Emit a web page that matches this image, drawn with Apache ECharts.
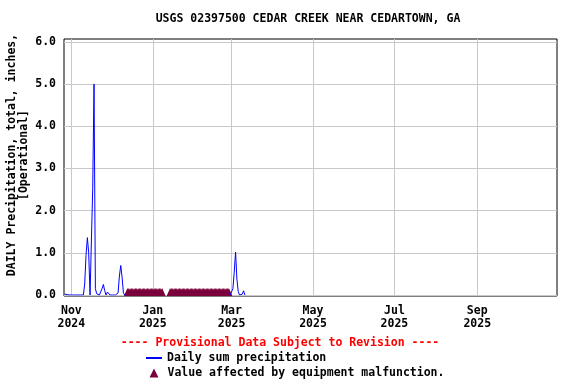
<!DOCTYPE html>
<html><head><meta charset="utf-8">
<script src="https://cdn.jsdelivr.net/npm/echarts@6/dist/echarts.min.js"></script>
<style>html,body{margin:0;padding:0;background:#fff}#c{width:576px;height:384px}</style>
</head><body><div id="c"></div>
<script>
// ---- data ----
const titleText = 'USGS 02397500 CEDAR CREEK NEAR CEDARTOWN, GA';
const yAxisTitle = ['DAILY Precipitation, total, inches,', '[Operational]'];
const provisionalText = '---- Provisional Data Subject to Revision ----';
const seriesNames = ['Daily sum precipitation', 'Value affected by equipment malfunction.'];
const xTickDates = ['2024-11-01', '2025-01-01', '2025-03-01', '2025-05-01', '2025-07-01', '2025-09-01'];
const yTicks = [0, 1, 2, 3, 4, 5, 6];
const xRange = ['2024-10-26T12', '2025-10-30T18'];
// daily values from Oct 27 2024 to Dec 12 2024
const precipStart1 = '2024-10-27';
const precipValues1 = [
  0.02, 0.05, 0.01, 0.04, 0,                       // Oct 27-31
  0, 0, 0, 0, 0, 0, 0, 0, 0, 0,                    // Nov 1-10
  0.26, 0.94, 1.36, 1.00, 0, 0, 2.52, 5.00, 0.15, 0.03, // Nov 11-20
  0, 0, 0, 0.15, 0.25, 0.10, 0, 0.07, 0.03, 0,     // Nov 21-30
  0, 0, 0, 0, 0, 0.05, 0.45, 0.70, 0.42, 0.05, 0, 0 // Dec 1-12
];
// daily values from Feb 28 2025 to Mar 11 2025
const precipStart2 = '2025-02-28';
const precipValues2 = [0, 0, 0.15, 0.54, 1.02, 0.38, 0.08, 0, 0, 0.02, 0.10, 0];
// days flagged "equipment malfunction"
const malfunctionRanges = [['2024-12-13', '2025-01-08'], ['2025-01-14', '2025-02-27']];
const malfunctionValue = 0;

// ---- helpers ----
const DAY = 86400000;
function ts(s) {
  const [d, t] = s.split('T');
  const [y, m, dd] = d.split('-').map(Number);
  return Date.UTC(y, m - 1, dd, t ? Number(t) : 0);
}
function daily(start, values) {
  const t0 = ts(start);
  return values.map((v, i) => [t0 + i * DAY, v]);
}
const lineData = daily(precipStart1, precipValues1)
  .concat([[ts(precipStart1) + precipValues1.length * DAY, null]])
  .concat(daily(precipStart2, precipValues2));
const malfData = [];
malfunctionRanges.forEach(([a, b]) => {
  for (let t = ts(a); t <= ts(b); t += DAY) malfData.push([t, malfunctionValue]);
});
const months = ['Jan','Feb','Mar','Apr','May','Jun','Jul','Aug','Sep','Oct','Nov','Dec'];
const FONT = '"DejaVu Sans Mono", monospace';
const FS = 11.5;
const xMin = ts(xRange[0]), xMax = ts(xRange[1]);
const xTickVals = xTickDates.map(ts);
const MALF_COLOR = '#7a003c';
const legendText = {color: '#000', fontFamily: FONT, fontWeight: 'bold', fontSize: FS};

const chart = echarts.init(document.getElementById('c'), null, {renderer: 'canvas'});
chart.setOption({
  animation: false,
  backgroundColor: '#fff',
  grid: [
    {left: 64, right: 19, top: 39, bottom: 88, show: true, borderColor: '#000', borderWidth: 1, backgroundColor: '#fff'},
    {left: 64, right: 19, top: 42, bottom: 89, show: false}
  ],
  xAxis: [
    {
      gridIndex: 0, type: 'value', min: xMin, max: xMax,
      axisLine: {show: false},
      axisTick: {show: true, length: 0, lineStyle: {opacity: 0}, customValues: xTickVals},
      splitLine: {show: true, lineStyle: {color: '#c8c8c8', width: 1}},
      axisLabel: {
        customValues: xTickVals, margin: 9, lineHeight: 13,
        color: '#000', fontFamily: FONT, fontWeight: 'bold', fontSize: FS, hideOverlap: false,
        formatter: v => { const d = new Date(v); return months[d.getUTCMonth()] + '\n' + d.getUTCFullYear(); }
      }
    },
    {gridIndex: 1, type: 'value', min: xMin, max: xMax, show: false, splitLine: {show: false}}
  ],
  yAxis: [
    {gridIndex: 0, type: 'value', min: 0, max: 1, show: false, splitLine: {show: false}},
    {
      gridIndex: 1, type: 'value', min: yTicks[0], max: yTicks[yTicks.length - 1], interval: 1,
      axisLine: {show: false}, axisTick: {show: false},
      splitLine: {show: true, lineStyle: {color: '#c8c8c8', width: 1}},
      axisLabel: {margin: 8, color: '#000', fontFamily: FONT, fontWeight: 'bold', fontSize: FS,
        formatter: v => v.toFixed(1)}
    }
  ],
  legend: [
    {
      left: 146, top: 352, itemWidth: 16, itemHeight: 2, selectedMode: false, padding: 0,
      textStyle: legendText,
      data: [{name: seriesNames[0], icon: 'rect', itemStyle: {color: '#0000ff'}}]
    },
    {
      left: 149.5, top: 367, itemWidth: 9, itemHeight: 9, selectedMode: false, padding: 0,
      textStyle: Object.assign({padding: [0, 0, 0, 4]}, legendText),
      data: [{name: seriesNames[1], icon: 'triangle', itemStyle: {color: MALF_COLOR, opacity: 1}}]
    }
  ],
  series: [
    {
      name: seriesNames[1], type: 'scatter', xAxisIndex: 1, yAxisIndex: 1,
      symbol: 'triangle', symbolSize: [7, 8], symbolOffset: [0, -3], clip: false,
      itemStyle: {color: MALF_COLOR, opacity: 1}, data: malfData, z: 2
    },
    {
      name: seriesNames[0], type: 'line', xAxisIndex: 1, yAxisIndex: 1,
      symbol: 'none', showSymbol: false, connectNulls: false,
      lineStyle: {color: '#0000ff', width: 1}, itemStyle: {color: '#0000ff'},
      data: lineData, z: 3
    }
  ],
  graphic: [
    {type: 'text', x: 308, y: 19, style: {text: titleText, textAlign: 'center', textVerticalAlign: 'middle',
      fill: '#000', font: 'bold ' + FS + 'px ' + FONT}},
    {type: 'text', x: 18, y: 155, rotation: Math.PI / 2, style: {text: yAxisTitle.join('\n'), textAlign: 'center',
      textVerticalAlign: 'middle', lineHeight: 12, fill: '#000', font: 'bold ' + FS + 'px ' + FONT}},
    {type: 'text', x: 280, y: 343, style: {text: provisionalText, textAlign: 'center', textVerticalAlign: 'middle',
      fill: '#ff0000', font: 'bold ' + FS + 'px ' + FONT}}
  ]
});
</script>
</body></html>
